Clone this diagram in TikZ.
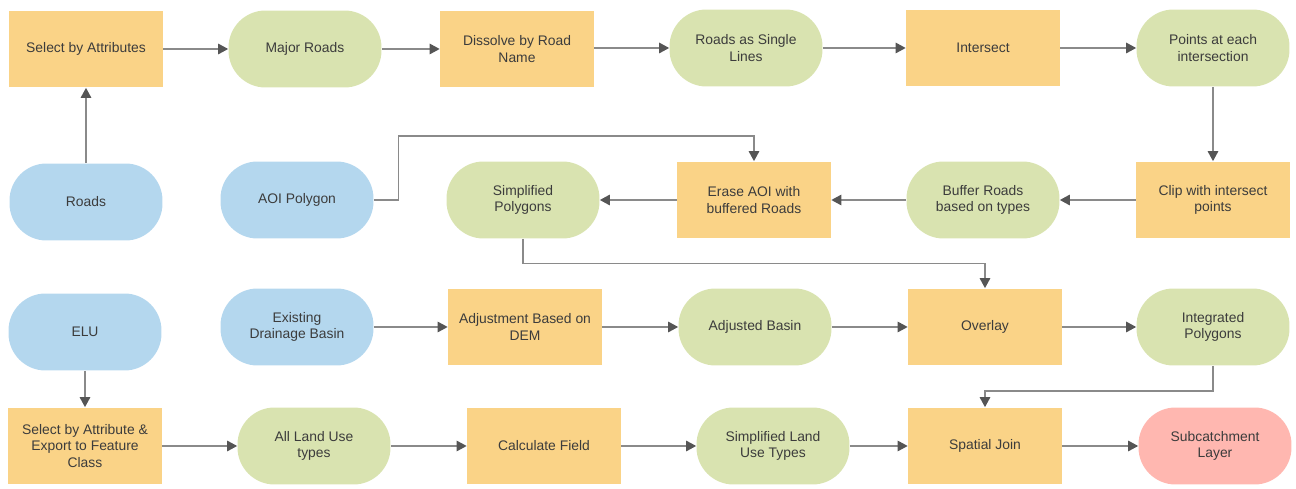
\documentclass[tikz,border=0pt]{standalone}
\usepackage{fontspec}
\setmainfont{Liberation Sans}
\usetikzlibrary{arrows.meta}
\usepackage{xcolor}
\definecolor{procfill}{RGB}{250,211,135}
\definecolor{datafill}{RGB}{217,227,176}
\definecolor{srcfill}{RGB}{180,215,238}
\definecolor{outfill}{RGB}{255,183,176}
\definecolor{linkgray}{RGB}{138,138,138}
\definecolor{tipgray}{RGB}{85,85,85}
\definecolor{textgray}{RGB}{60,60,60}
\tikzset{
  proc/.style={fill=procfill, minimum width=3.08cm, minimum height=1.54cm, align=center, inner sep=0pt},
  pill/.style={rounded corners=0.74cm, minimum width=3.06cm, minimum height=1.54cm, align=center, inner sep=0pt},
  data/.style={pill, fill=datafill},
  source/.style={pill, fill=srcfill},
  result/.style={pill, fill=outfill},
  link/.style={draw=linkgray, line width=0.75pt, -{Triangle[length=2mm,width=2.1mm,color=tipgray]}}
}

\begin{document}
\begin{tikzpicture}[x=0.02cm, y=-0.02cm, font=\fontsize{7.9}{9.5}\selectfont, text=textgray]
\useasboundingbox (0,0) rectangle (1296,489);
\node[proc] (sel) at (86,49) {Select by Attributes};
\node[data] (major) at (305,49) {Major Roads};
\node[proc] (diss) at (517,49) {Dissolve by Road\\Name};
\node[data] (single) at (746,48) {Roads as Single\\Lines};
\node[proc] (inter) at (983,48) {Intersect};
\node[data] (points) at (1213,48) {Points at each\\intersection};

\node[source] (roads) at (86,202) {Roads};
\node[source] (aoi) at (297,200) {AOI Polygon};
\node[data] (simp) at (523,200) {Simplified\\Polygons};
\node[proc] (erase) at (754,200) {Erase AOI with\\buffered Roads};
\node[data] (buffer) at (983,200) {Buffer Roads\\based on types};
\node[proc] (clip) at (1213,200) {Clip with intersect\\points};

\node[source] (elu) at (85,332) {ELU};
\node[source] (exist) at (297,327) {Existing\\Drainage Basin};
\node[proc] (adjust) at (525,327) {Adjustment Based on\\DEM};
\node[data] (adjbasin) at (755,327) {Adjusted Basin};
\node[proc] (overlay) at (985,327) {Overlay};
\node[data] (integ) at (1213,327) {Integrated\\Polygons};

\node[proc] (export) at (85,446) {Select by Attribute \&\\Export to Feature\\Class};
\node[data] (landuse) at (314,446) {All Land Use\\types};
\node[proc] (calc) at (544,446) {Calculate Field};
\node[data] (simpland) at (773,446) {Simplified Land\\Use Types};
\node[proc] (join) at (985,446) {Spatial Join};
\node[result] (subcat) at (1215,446) {Subcatchment\\Layer};

\draw[link] (roads) -- (sel);
\draw[link] (sel) -- (major);
\draw[link] (major) -- (diss);
\draw[link] (diss.east |- single) -- (single);
\draw[link] (single) -- (inter);
\draw[link] (inter) -- (points);
\draw[link] (points) -- (clip);
\draw[link] (clip) -- (buffer);
\draw[link] (buffer) -- (erase);
\draw[link] (erase) -- (simp);
\draw[link] (aoi.east) -- ++(25,0) |- ([yshift=0.5cm]erase.north) -- (erase.north);
\draw[link] (simp.south) -- ++(0,25) -| (overlay.north);
\draw[link] (exist) -- (adjust);
\draw[link] (adjust) -- (adjbasin);
\draw[link] (adjbasin) -- (overlay);
\draw[link] (overlay) -- (integ);
\draw[link] (integ.south) -- ++(0,25) -| (join.north);
\draw[link] (elu) -- (export);
\draw[link] (export) -- (landuse);
\draw[link] (landuse) -- (calc);
\draw[link] (calc) -- (simpland);
\draw[link] (simpland) -- (join);
\draw[link] (join) -- (subcat);
\end{tikzpicture}
\end{document}
